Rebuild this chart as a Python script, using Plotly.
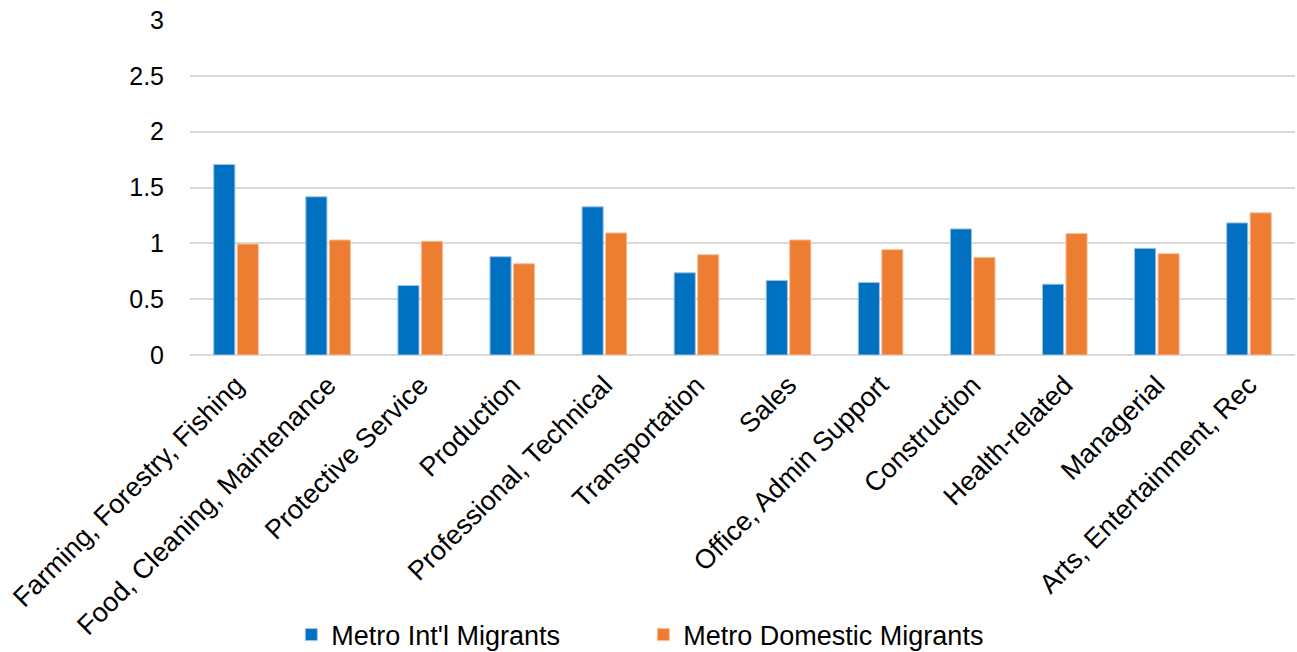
import plotly.graph_objects as go

categories = ["Farming, Forestry, Fishing", "Food, Cleaning, Maintenance", "Protective Service",
              "Production", "Professional, Technical", "Transportation", "Sales",
              "Office, Admin Support", "Construction", "Health-related", "Managerial",
              "Arts, Entertainment, Rec"]
intl_values = [1.706, 1.417, 0.622, 0.88, 1.327, 0.736, 0.667, 0.649, 1.129, 0.634, 0.955, 1.183]
domestic_values = [0.994, 1.03, 1.018, 0.817, 1.093, 0.898, 1.03, 0.943, 0.874, 1.087, 0.907, 1.273]
y_ticks = [0, 0.5, 1, 1.5, 2, 2.5, 3]
y_tick_labels = ["0", "0.5", "1", "1.5", "2", "2.5", "3"]

FONT = "Liberation Sans, Arial, sans-serif"

fig = go.Figure()
fig.add_trace(go.Bar(x=categories, y=intl_values, name="Metro Int'l Migrants",
                     marker=dict(color="#0070C0", line=dict(color="#9ac3e6", width=1))))
fig.add_trace(go.Bar(x=categories, y=domestic_values, name="Metro Domestic Migrants",
                     marker=dict(color="#ED7D31", line=dict(color="#f6bf99", width=1))))

fig.update_layout(
    width=1297, height=652,
    margin=dict(l=190, r=2, t=20, b=297, autoexpand=False),
    paper_bgcolor="white", plot_bgcolor="white",
    font=dict(family=FONT, size=22, color="#000000"),
    barmode="group", bargap=0.49, bargroupgap=0.1,
    showlegend=True,
    legend=dict(orientation="h", xref="container", x=0.496, xanchor="center",
                yref="paper", y=-0.836, yanchor="middle",
                font=dict(family=FONT, size=27, color="#000000"),
                entrywidth=307, entrywidthmode="pixels", itemwidth=30,
                traceorder="normal"),
    xaxis=dict(tickangle=-45, tickfont=dict(family=FONT, size=27, color="#000000"),
               showgrid=False, showline=False, ticks="", ticklabelstandoff=8,
               automargin=False),
    yaxis=dict(range=[0, 3], tickvals=y_ticks, ticktext=y_tick_labels,
               tickfont=dict(family=FONT, size=25, color="#000000"),
               showgrid=True, gridcolor="#d9d9d9", gridwidth=1.5,
               zeroline=True, zerolinecolor="#d9d9d9", zerolinewidth=1.5,
               showline=False, ticks="", ticklabelstandoff=25, automargin=False),
)

fig.write_html("out.html")
